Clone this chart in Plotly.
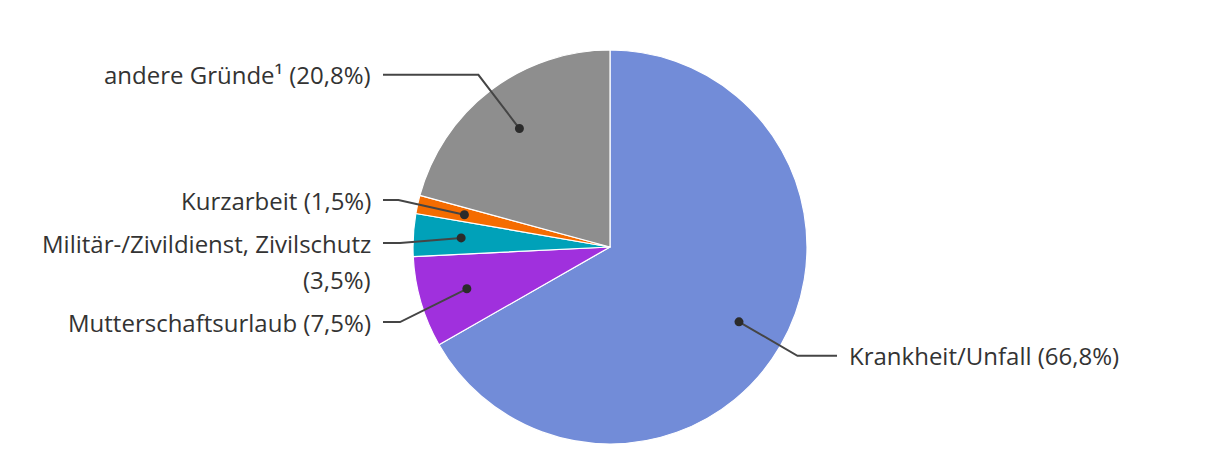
import math
import plotly.graph_objects as go

# ---- data ----
categories = ["Krankheit/Unfall", "Mutterschaftsurlaub", "Militär-/Zivildienst, Zivilschutz",
              "Kurzarbeit", "andere Gründe¹"]
values = [66.8, 7.5, 3.5, 1.5, 20.8]
colors = ["#728CD8", "#A030DD", "#00A1B9", "#F56C00", "#8E8E8E"]

# ---- layout constants ----
W, H = 1220, 476
CX, CY, R = 610, 247, 197
DOT_R = 0.757          # dot radius fraction
LABEL_R = 1.1          # natural label radius fraction
END_OFF = 227          # horizontal connector end distance from centre
TXT_GAP = 11
LINE_H = 36
PAD = 7
FONT = "Open Sans"
FS = 24
WRAP = 34


def fmt(v):
    return f"{v:.1f}".replace(".", ",") + "%"


def wrap(text, width):
    words, lines, cur = text.split(" "), [], ""
    for w in words:
        t = (cur + " " + w).strip()
        if len(t) > width and cur:
            lines.append(cur)
            cur = w
        else:
            cur = t
    lines.append(cur)
    return lines


def px(x):
    return x / W


def py(y):
    return 1 - y / H


total = sum(values)
fig = go.Figure()
fig.add_trace(go.Pie(
    labels=categories, values=values, sort=False, direction="clockwise", rotation=0,
    marker=dict(colors=colors, line=dict(color="white", width=1.2)),
    textinfo="none", hoverinfo="label+percent", showlegend=False,
    domain=dict(x=[(CX - R) / W, (CX + R) / W], y=[(H - CY - R) / H, (H - CY + R) / H]),
))

# compute slice geometry
items = []
cum = 0.0
for name, v in zip(categories, values):
    mid = (cum + v / 2) / total * 2 * math.pi
    cum += v
    dx, dy = math.sin(mid), -math.cos(mid)  # screen direction
    side = 1 if dx >= 0 else -1
    lines = wrap(f"{name} ({fmt(v)})", WRAP)
    items.append(dict(dx=dx, dy=dy, side=side, lines=lines,
                      dot=(CX + DOT_R * R * dx, CY + DOT_R * R * dy),
                      ny=CY + LABEL_R * R * dy))

# resolve overlaps per side (top-down)
for s in (-1, 1):
    group = sorted([it for it in items if it["side"] == s], key=lambda it: it["ny"])
    bottom = -1e9
    for it in group:
        top = max(it["ny"] - LINE_H / 2, bottom + PAD)
        it["y"] = top + LINE_H / 2
        bottom = top + LINE_H * len(it["lines"])

shapes, annotations = [], []
for it in items:
    s = it["side"]
    x0, y0 = it["dot"]
    end_x = CX + s * END_OFF
    ly = it["y"]
    ex = None
    if abs(it["dy"]) > 1e-6:
        t = (ly - y0) / it["dy"]
        if t > 0:
            cand = x0 + t * it["dx"]
            if (s < 0 and cand >= end_x + 12) or (s > 0 and cand <= end_x - 12):
                ex = cand
    if ex is None:
        ex = end_x - s * 17
    path = f"M{px(x0)},{py(y0)} L{px(ex)},{py(ly)} L{px(end_x)},{py(ly)}"
    shapes.append(dict(type="path", path=path, xref="paper", yref="paper", layer="above",
                       line=dict(color="#454545", width=2)))
    rr = 4.5
    shapes.append(dict(type="circle", xref="paper", yref="paper", layer="above",
                       x0=px(x0 - rr), x1=px(x0 + rr), y0=py(y0 + rr), y1=py(y0 - rr),
                       fillcolor="#2b2b2b", line=dict(width=0)))
    for k, line in enumerate(it["lines"]):
        annotations.append(dict(
            x=px(end_x + s * (TXT_GAP - 1)), y=py(ly + k * LINE_H), xref="paper", yref="paper",
            text=line, showarrow=False, xanchor="left" if s > 0 else "right",
            yanchor="middle", font=dict(family=FONT, size=FS, color="#333333")))

fig.update_layout(
    width=W, height=H, margin=dict(l=0, r=0, t=0, b=0),
    paper_bgcolor="white", plot_bgcolor="rgba(0,0,0,0)",
    shapes=shapes, annotations=annotations,
)
fig.write_html("out.html", config={"displayModeBar": False},
               post_script="document.body.style.margin='0';")
